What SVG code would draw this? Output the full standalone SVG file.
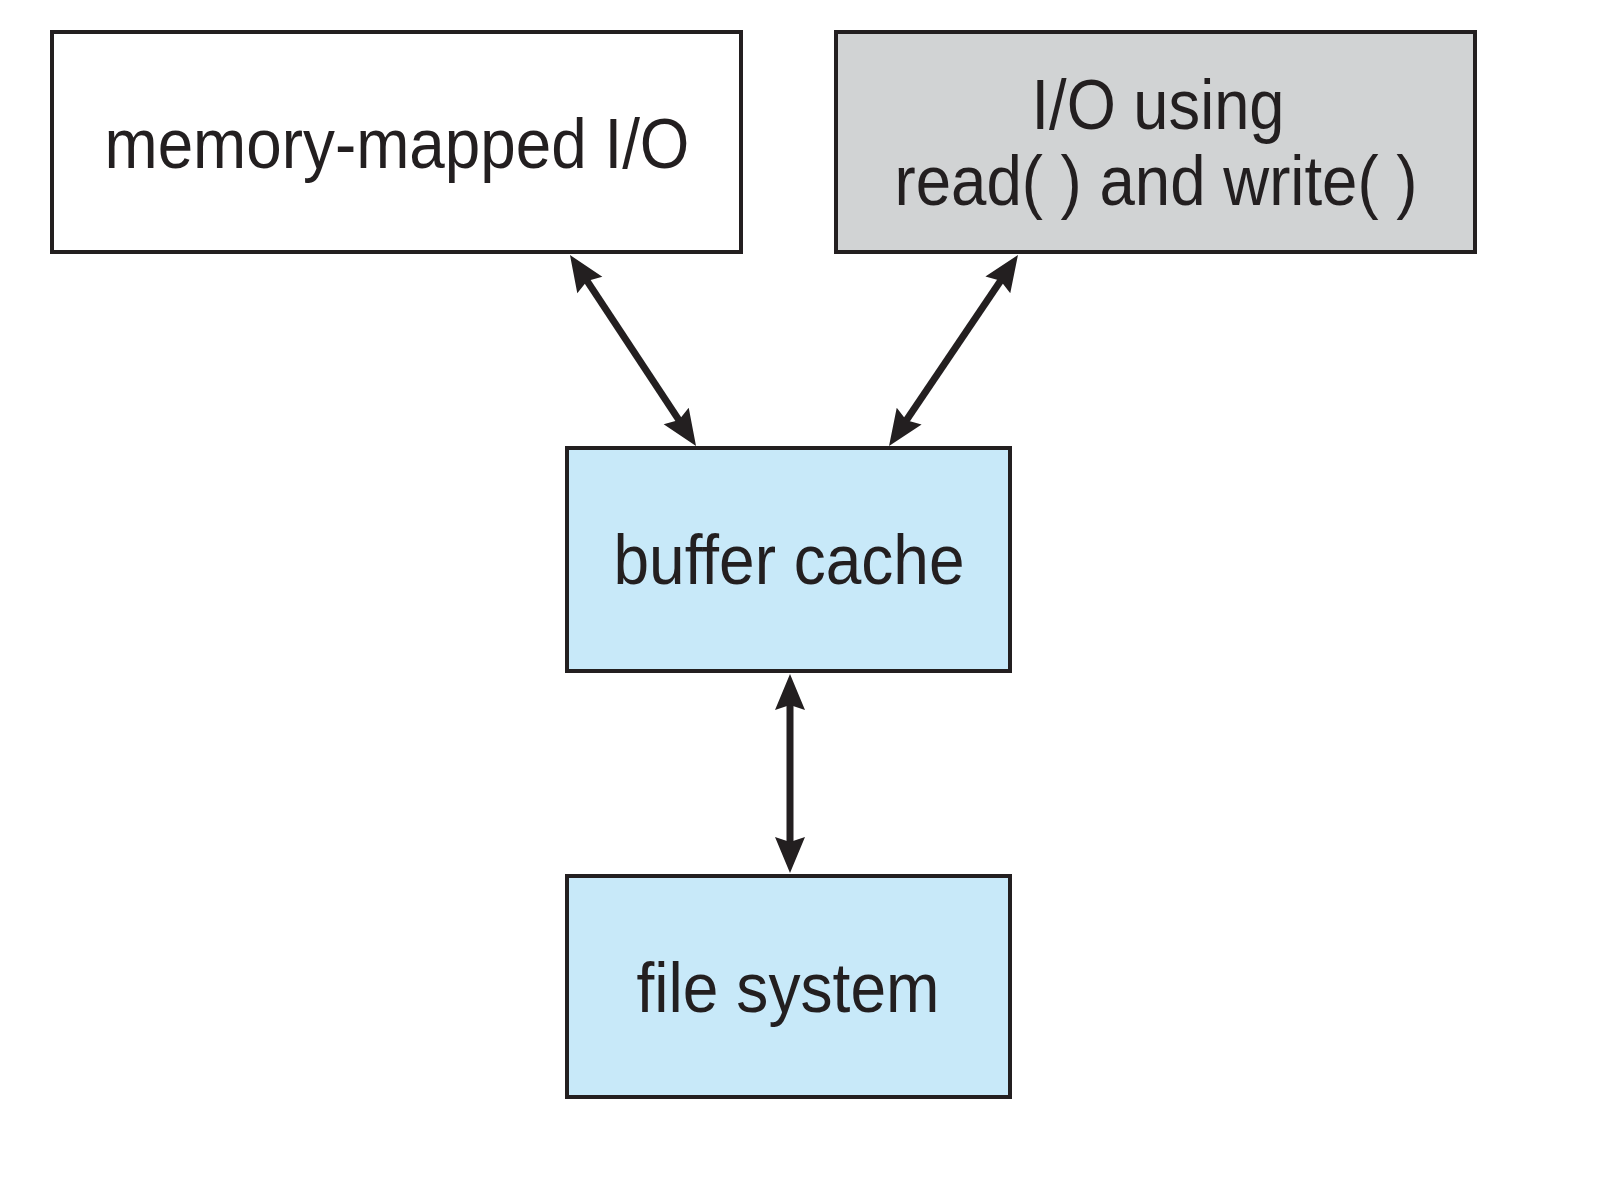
<svg xmlns="http://www.w3.org/2000/svg" width="1610" height="1202" viewBox="0 0 1610 1202">
  <style>
    .box { stroke: #231f20; stroke-width: 4; }
    .white { fill: #ffffff; }
    .gray { fill: #d1d3d4; }
    .blue { fill: #c8e9f9; }
    .label { font-family: "Liberation Sans", Arial, sans-serif; font-size: 70px; fill: #231f20; text-anchor: middle; }
    .conn { stroke: #231f20; stroke-width: 7; fill: none; marker-start: url(#arrow); marker-end: url(#arrow); }
  </style>
  <defs>
    <marker id="arrow" markerUnits="userSpaceOnUse" orient="auto-start-reverse" refX="0" refY="0" markerWidth="40" markerHeight="40" overflow="visible">
      <path d="M28,0 L-8,-15 L-3,0 L-8,15 Z" fill="#231f20"/>
    </marker>
  </defs>
  <rect width="1610" height="1202" fill="#ffffff"/>

  <g id="memory-mapped-io">
    <rect class="box white" x="52" y="32" width="689" height="220"/>
    <text class="label" x="397" y="168" textLength="585" lengthAdjust="spacingAndGlyphs">memory-mapped I/O</text>
  </g>

  <g id="io-read-write">
    <rect class="box gray" x="836" y="32" width="639" height="220"/>
    <text class="label" x="1158" y="129" textLength="253" lengthAdjust="spacingAndGlyphs">I/O using</text>
    <text class="label" x="1156" y="205" textLength="523" lengthAdjust="spacingAndGlyphs">read( ) and write( )</text>
  </g>

  <g id="buffer-cache">
    <rect class="box blue" x="567" y="448" width="443" height="223"/>
    <text class="label" x="789" y="584" textLength="351" lengthAdjust="spacingAndGlyphs">buffer cache</text>
  </g>

  <g id="file-system">
    <rect class="box blue" x="567" y="876" width="443" height="221"/>
    <text class="label" x="788" y="1012" textLength="303" lengthAdjust="spacingAndGlyphs">file system</text>
  </g>

  <g id="connectors">
    <line class="conn" x1="585.4" y1="278.4" x2="680.6" y2="422.6"/>
    <line class="conn" x1="1002.3" y1="278.2" x2="904.7" y2="422.8"/>
    <line class="conn" x1="790" y1="702" x2="790" y2="845"/>
  </g>
</svg>
